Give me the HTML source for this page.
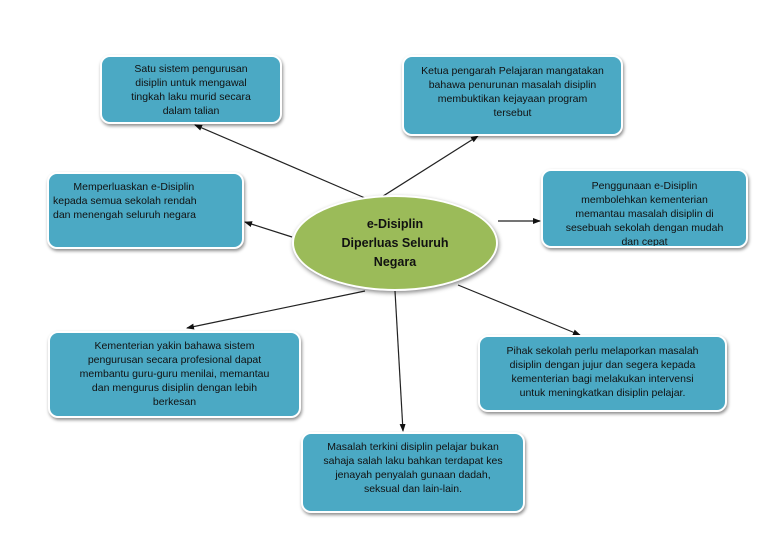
<!DOCTYPE html>
<html><head><meta charset="utf-8"><style>
html,body{margin:0;padding:0;background:#fff;}
body{width:768px;height:543px;position:relative;overflow:hidden;font-family:"Liberation Sans",sans-serif;}
.b{position:absolute;background:#4ba9c4;border:2px solid #fff;border-radius:10px;box-shadow:1px 2px 3px rgba(0,0,0,.45);box-sizing:border-box;color:#111;font-size:10.5px;line-height:14px;text-align:center;overflow:hidden;}
svg{position:absolute;left:0;top:0;}
.c{position:absolute;left:292px;top:195px;width:206px;height:96px;border-radius:50%;background:#9bbb59;border:2px solid #fff;box-sizing:border-box;box-shadow:1px 2px 4px rgba(0,0,0,.45);display:flex;align-items:center;justify-content:center;text-align:center;font-weight:bold;font-size:12.5px;line-height:19px;color:#111;}
</style></head><body>
<svg width="768" height="543"><defs><marker id="a" markerWidth="8" markerHeight="8" refX="7" refY="4" orient="auto" markerUnits="userSpaceOnUse"><path d="M0,1 L8,4 L0,7z" fill="#111"/></marker></defs>
<g stroke="#222" stroke-width="1.2" marker-end="url(#a)">
<line x1="365" y1="198" x2="195" y2="125"/>
<line x1="380" y1="198" x2="478" y2="136"/>
<line x1="292" y1="237" x2="245" y2="222"/>
<line x1="498" y1="221" x2="540" y2="221"/>
<line x1="365" y1="291" x2="187" y2="328"/>
<line x1="395" y1="291" x2="403" y2="431"/>
<line x1="458" y1="285" x2="580" y2="335"/>
</g></svg>
<div class="b" style="left:100px;top:55px;width:182px;height:69px;padding-top:5px;padding-left:0">Satu sistem pengurusan<br>disiplin untuk mengawal<br>tingkah laku murid secara<br>dalam talian</div>
<div class="b" style="left:402px;top:55px;width:221px;height:81px;padding-top:7px">Ketua pengarah Pelajaran mangatakan<br>bahawa penurunan masalah disiplin<br>membuktikan kejayaan program<br>tersebut</div>
<div class="b" style="left:47px;top:172px;width:197px;height:77px;padding-top:6px;text-align:left;padding-left:4px">&nbsp;&nbsp;&nbsp;&nbsp;&nbsp;&nbsp;&nbsp;Memperluaskan e-Disiplin<br>kepada semua sekolah rendah<br>dan menengah seluruh negara</div>
<div class="b" style="left:541px;top:169px;width:207px;height:79px;padding-top:8px">Penggunaan e-Disiplin<br>membolehkan kementerian<br>memantau masalah disiplin di<br>sesebuah sekolah dengan mudah<br>dan cepat</div>
<div class="b" style="left:48px;top:331px;width:253px;height:87px;padding-top:6px">Kementerian yakin bahawa sistem<br>pengurusan secara profesional dapat<br>membantu guru-guru menilai, memantau<br>dan mengurus disiplin dengan lebih<br>berkesan</div>
<div class="b" style="left:478px;top:335px;width:249px;height:77px;padding-top:7px">Pihak sekolah perlu melaporkan masalah<br>disiplin dengan jujur dan segera kepada<br>kementerian bagi melakukan intervensi<br>untuk meningkatkan disiplin pelajar.</div>
<div class="b" style="left:301px;top:432px;width:224px;height:81px;padding-top:6px">Masalah terkini disiplin pelajar bukan<br>sahaja salah laku bahkan terdapat kes<br>jenayah penyalah gunaan dadah,<br>seksual dan lain-lain.</div>
<div class="c">e-Disiplin<br>Diperluas Seluruh<br>Negara</div>
</body></html>
